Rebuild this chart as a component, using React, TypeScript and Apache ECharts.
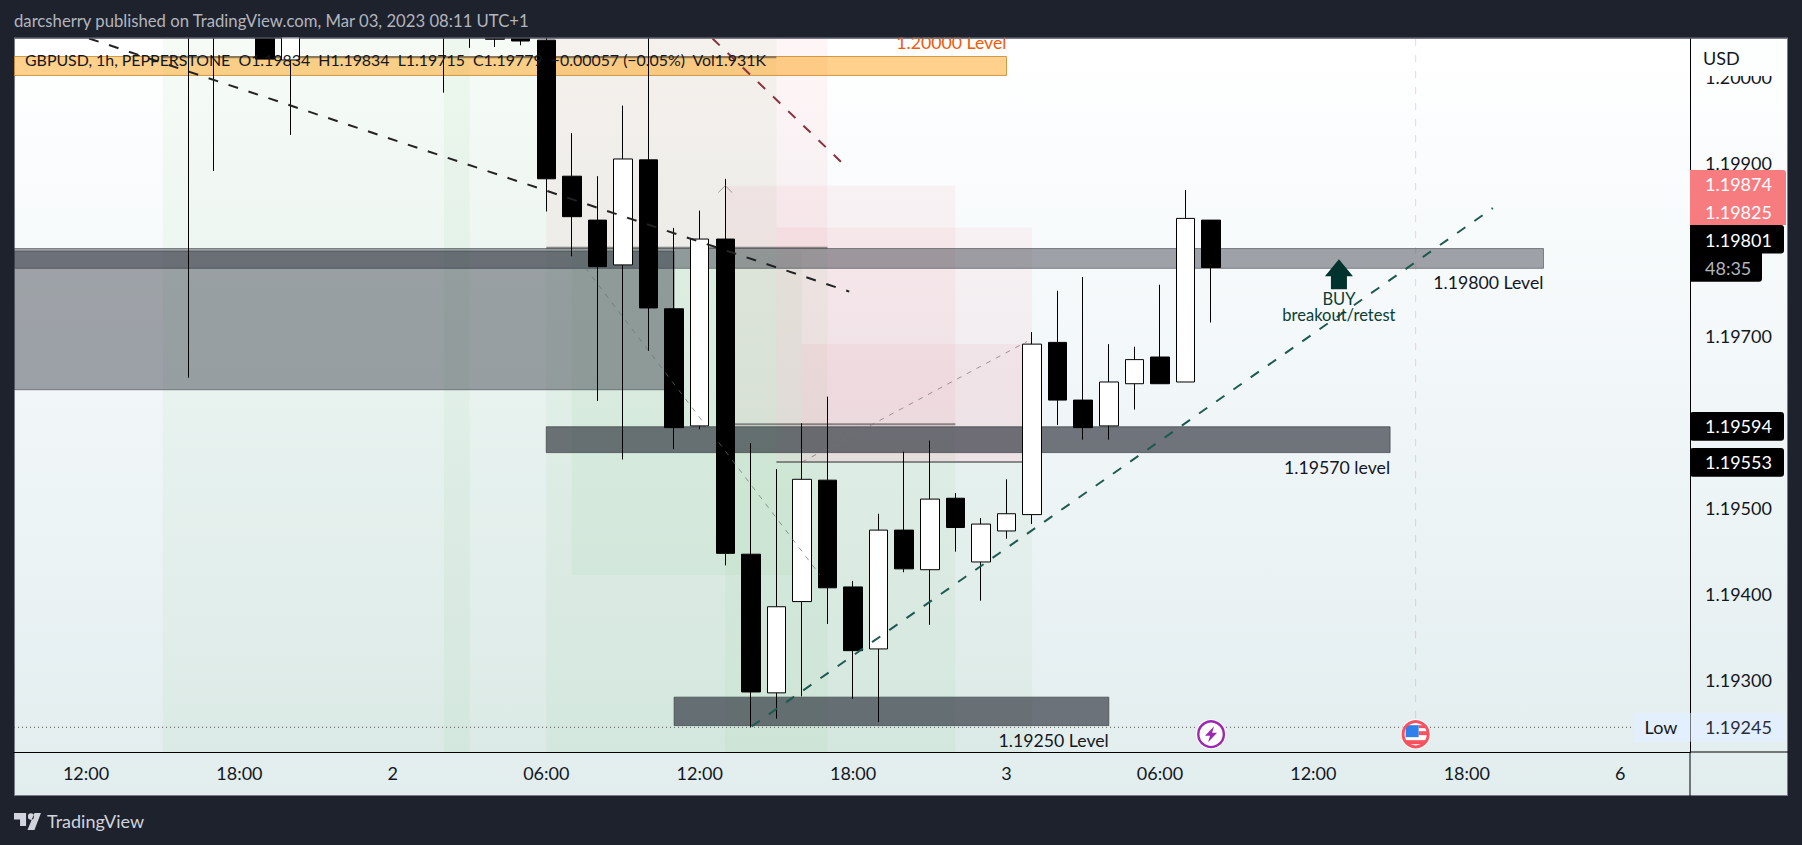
import React, { useEffect, useRef } from "react";
import * as echarts from "echarts";

const FONT = "Lato";
const xMin = -2.816;
const xMax = 62.73;
const yMin = 1.192163;
const yMax = 1.200455;

const timeLabels = ["12:00", "18:00", "2", "06:00", "12:00", "18:00", "3", "06:00", "12:00", "18:00", "6"];
const timeTicks = [0, 6, 12, 18, 24, 30, 36, 42, 48, 54, 60];
const priceTicks = [1.193, 1.194, 1.195, 1.197, 1.199];
const topPriceLabel = "1.20000";

const barIndex = [4, 5, 6, 7, 8, 9, 10, 11, 12, 13, 14, 15, 16, 17, 18, 19, 20, 21, 22, 23, 24, 25, 26, 27, 28, 29, 30, 31, 32, 33, 34, 35, 36, 37, 38, 39, 40, 41, 42, 43, 44];
const opens = [1.2012, 1.2010, 1.2014, 1.2010, 1.2002, 1.2011, 1.2013, 1.2015, 1.2012, 1.2014, 1.2009, 1.2009, 1.20052, 1.20052, 1.20043, 1.19885, 1.19834, 1.19782, 1.19904, 1.19731, 1.19595, 1.19812, 1.19446, 1.19285, 1.19391, 1.19532, 1.19408, 1.19336, 1.19474, 1.19428, 1.19511, 1.19437, 1.19473, 1.19492, 1.19692, 1.19625, 1.19595, 1.19644, 1.19675, 1.19646, 1.19834];
const closes = [1.2008, 1.2008, 1.2012, 1.20021, 1.2008, 1.2013, 1.2015, 1.2013, 1.2014, 1.2012, 1.2007, 1.2007, 1.20044, 1.20042, 1.19882, 1.19838, 1.1978, 1.19905, 1.19732, 1.19593, 1.19812, 1.19447, 1.19286, 1.19385, 1.19533, 1.19407, 1.19334, 1.19474, 1.19429, 1.1951, 1.19477, 1.19481, 1.19493, 1.1969, 1.19625, 1.19593, 1.19646, 1.19672, 1.19644, 1.19836, 1.19779];
const lows = [1.19651, 1.19891, 1.2009, 1.20021, 1.19933, 1.2009, 1.2012, 1.2012, 1.2011, 1.2011, 1.19982, 1.20034, 1.20035, 1.20037, 1.19844, 1.19792, 1.19624, 1.19556, 1.19682, 1.19568, 1.19591, 1.19433, 1.19245, 1.19255, 1.19281, 1.19365, 1.19278, 1.19251, 1.19425, 1.19364, 1.19449, 1.19392, 1.19464, 1.19481, 1.19596, 1.19579, 1.19579, 1.19614, 1.19644, 1.19646, 1.19715];
const highs = [1.2015, 1.2013, 1.2016, 1.2012, 1.2011, 1.2015, 1.2017, 1.2017, 1.2016, 1.2016, 1.2012, 1.2011, 1.2006, 1.2006, 1.20055, 1.19935, 1.19885, 1.19967, 1.2006, 1.19825, 1.19845, 1.19882, 1.19575, 1.19545, 1.19598, 1.19629, 1.19415, 1.19493, 1.19565, 1.19578, 1.19517, 1.19488, 1.19533, 1.19704, 1.19752, 1.19768, 1.1969, 1.19687, 1.19759, 1.19869, 1.19834];

// [fromBar, toBar, priceA, priceB]
const greenShades = [
  [3, 27, 1.2010, 1.1915],
  [14, 15, 1.2010, 1.1915],
  [18, 29, 1.19801, 1.1915],
  [19, 28, 1.19799, 1.19422],
  [25, 34, 1.19594, 1.1915],
  [27, 37, 1.19553, 1.1915],
];
const pinkShades = [
  [18, 29, 1.2010, 1.19801],
  [25, 34, 1.19874, 1.19594],
  [27, 37, 1.19825, 1.19553],
  [28, 37, 1.1969, 1.19553],
];
const wideLevels = [
  [xMin, 57, 1.19801, 1.19778],
  [xMin, 23, 1.19798, 1.19637],
];
const darkLevels = [
  [18, 51, 1.19594, 1.19564],
  [23, 40, 1.1928, 1.19247],
];
const orangeLevels = [[xMin, 36, 1.20024, 1.20002]];

const entryLines = [
  [[3, 1.20023], [27, 1.20023]],
  [[18, 1.19802], [29, 1.19802]],
  [[25, 1.19597], [34, 1.19597]],
  [[27, 1.19553], [37, 1.19553]],
];
const trendBlack = [[0.12, 1.20045], [29.85, 1.19751]];
const trendRed = [[24.5, 1.20045], [29.8, 1.19894]];
const trendGreen = [[26.03, 1.19246], [55.02, 1.19848]];
const thinDown = [[19, 1.19799], [28.7, 1.19422]];
const thinUp = [[28, 1.19553], [36.8, 1.19693]];
const thinHead = [[24.73, 1.19866], [25, 1.19874], [25.27, 1.19866]];
const eventLine = [[52, 1.2010], [52, 1.19255]];
const lowLine = [[xMin, 1.19245], [60.46, 1.19245]];

const levelNotes = [
  [57, 1.19761, "1.19800 Level"],
  [51, 1.19547, "1.19570 level"],
  [40, 1.1923, "1.19250 Level"],
];
const orangeNote = [[36, 1.2004, "1.20000 Level"]];
const buyArrow = [[49, 1.19771]];
const buyNotes = [[49, 1.19733, "BUY\nbreakout/retest"]];
const eventIcons = [
  [44, 1.19237, 0],
  [52, 1.19237, 1],
];

const headerText = "darcsherry published on TradingView.com, Mar 03, 2023 08:11 UTC+1";
const legendText = "GBPUSD, 1h, PEPPERSTONE  O1.19834  H1.19834  L1.19715  C1.19779  \u22120.00057 (\u22120.05%)  Vol1.931K";
const pinkTags = ["1.19874", "1.19825"];
const blackTags = ["1.19801", "1.19594", "1.19553"];
const countdown = "48:35";
const lowTag = "1.19245";

echarts.graphic.registerShape(
  "tvLogo",
  echarts.graphic.extendPath(
    "M0 0H13V13H6.5V6.5H0Z M15 3.5a3.2 3.2 0 1 0 6.4 0a3.2 3.2 0 1 0-6.4 0Z M22 0H29L22 17H14.5Z",
    {}
  )
);

function rectSeries(data: number[][], color: string, border: string | null, z: number) {
  return {
    type: "custom",
    clip: true,
    silent: true,
    z,
    data,
    encode: { x: [0, 1], y: [2, 3] },
    renderItem: (_p: any, api: any) => {
      const a = api.coord([api.value(0), api.value(2)]);
      const b = api.coord([api.value(1), api.value(3)]);
      return {
        type: "rect",
        shape: { x: a[0], y: a[1], width: b[0] - a[0], height: b[1] - a[1] },
        style: { fill: color, stroke: border, lineWidth: border ? 1 : 0 },
      };
    },
  };
}

function lineSeries(data: number[][], color: string, width: number, type: any, z: number) {
  return {
    type: "line",
    data,
    silent: true,
    symbol: "none",
    clip: true,
    z,
    lineStyle: { color, width, type, cap: "butt" },
  };
}

function noteSeries(data: any[], color: string, align: string, size: number, lineHeight?: number) {
  return {
    type: "scatter",
    data,
    silent: true,
    symbolSize: 0,
    z: 8,
    clip: false,
    itemStyle: { opacity: 1 },
    label: {
      show: true,
      position: "inside",
      align,
      verticalAlign: "middle",
      color,
      fontFamily: FONT,
      fontSize: size,
      lineHeight,
      formatter: (p: any) => p.data[2],
    },
  };
}

function renderIcon(_p: any, api: any) {
  const c = api.coord([api.value(0), api.value(1)]);
  const isFlag = api.value(2) === 1;
  const children: any[] = [
    { type: "circle", shape: { cx: 0, cy: 0, r: 15 }, style: { fill: "#ffffff" } },
  ];
  if (isFlag) {
    children.push(
      { type: "rect", shape: { x: 3, y: -9, width: 8, height: 3 }, style: { fill: "#f7525f" } },
      { type: "rect", shape: { x: 3, y: -3, width: 10, height: 4 }, style: { fill: "#f7525f" } },
      { type: "rect", shape: { x: -10, y: 6, width: 20, height: 4 }, style: { fill: "#f7525f" } },
      { type: "rect", shape: { x: -10, y: -9, width: 13, height: 12 }, style: { fill: "#2f80ed" } },
      { type: "circle", shape: { cx: 0, cy: 0, r: 12.6 }, style: { fill: "none", stroke: "#f7525f", lineWidth: 3 } }
    );
  } else {
    children.push(
      { type: "circle", shape: { cx: 0, cy: 0, r: 12.8 }, style: { fill: "none", stroke: "#9c27b0", lineWidth: 2.4 } },
      {
        type: "polygon",
        shape: { points: [[3, -8], [-6, 1.5], [-1, 1.5], [-3, 8], [6, -1.5], [1, -1.5]] },
        style: { fill: "#9c27b0" },
      }
    );
  }
  return { type: "group", x: c[0], y: c[1], children };
}

function tag(x: number, y: number, w: number, h: number, fill: string, radius: any) {
  return { type: "rect", silent: true, z: 100, shape: { x, y, width: w, height: h, r: radius }, style: { fill } };
}
function label(x: number, y: number, text: string, fill: string, size = 18, align = "left") {
  return {
    type: "text",
    silent: true,
    z: 100,
    x,
    y,
    style: { text, fill, fontFamily: FONT, fontSize: size, align, verticalAlign: "middle" },
  };
}

export default function App() {
  const ref = useRef<HTMLDivElement>(null);
  useEffect(() => {
    if (!ref.current) return;
    const chart = echarts.init(ref.current, undefined, { renderer: "svg" });
    const candleData = barIndex.map((b, i) => [b, opens[i], closes[i], lows[i], highs[i]]);
    const thickGray = "rgba(70,72,72,0.6)";
    chart.setOption({
      animation: false,
      backgroundColor: "transparent",
      grid: { left: 14, right: 112, top: 38, bottom: 93, containLabel: false },
      xAxis: {
        type: "value",
        min: xMin,
        max: xMax,
        splitLine: { show: false },
        axisTick: { show: false },
        axisLine: { show: true, onZero: false, lineStyle: { color: "#000", width: 1 } },
        axisLabel: {
          customValues: timeTicks,
          formatter: (v: number) => timeLabels[timeTicks.indexOf(Math.round(v))] ?? "",
          color: "#131722",
          fontFamily: FONT,
          fontSize: 18,
          margin: 12,
        },
      },
      yAxis: {
        type: "value",
        position: "right",
        min: yMin,
        max: yMax,
        splitLine: { show: false },
        axisTick: { show: false },
        axisLine: { show: true, onZero: false, lineStyle: { color: "#000", width: 1 } },
        axisLabel: {
          customValues: priceTicks,
          formatter: (v: number) => v.toFixed(5),
          color: "#131722",
          fontFamily: FONT,
          fontSize: 18,
          margin: 15,
        },
      },
      series: [
        rectSeries(greenShades, "rgba(76,175,80,0.05)", null, 1),
        rectSeries(pinkShades, "rgba(242,54,69,0.05)", null, 1),
        rectSeries(wideLevels, "rgba(42,46,57,0.43)", "rgba(70,74,80,0.6)", 1),
        rectSeries(darkLevels, "rgba(42,46,57,0.65)", "rgba(60,64,70,0.7)", 1),
        rectSeries(orangeLevels, "rgba(255,152,0,0.45)", "rgba(200,140,50,0.85)", 1),
        ...entryLines.map((l) => lineSeries(l, thickGray, 2, "solid", 2)),
        lineSeries(lowLine, "#555", 1, [1, 3], 2),
        lineSeries(eventLine, "rgba(242,54,69,0.22)", 1, [7, 9], 2),
        {
          type: "candlestick",
          data: candleData,
          barWidth: 19,
          z: 3,
          silent: true,
          clip: true,
          itemStyle: { color: "#ffffff", color0: "#000000", borderColor: "#000000", borderColor0: "#000000", borderWidth: 1 },
        },
        lineSeries(trendBlack, "#222222", 2, [10, 11], 4),
        lineSeries(trendRed, "#8c2f3e", 2, [10, 11], 4),
        lineSeries(trendGreen, "#1f5a50", 2, [10, 11], 4),
        lineSeries(thinDown, "rgba(100,115,110,0.7)", 1, [5, 6], 4),
        lineSeries(thinUp, "rgba(120,110,112,0.7)", 1, [5, 6], 4),
        lineSeries(thinHead, "rgba(100,100,100,0.6)", 1, "solid", 4),
        {
          type: "scatter",
          data: buyArrow,
          silent: true,
          z: 6,
          symbol: "path://M14 0L28 17H22V30H6V17H0Z",
          symbolSize: [28, 30],
          itemStyle: { color: "#00332e", opacity: 1 },
        },
        noteSeries(levelNotes, "#131722", "right", 17.7),
        noteSeries(orangeNote, "#ef5a0c", "right", 17.7),
        noteSeries(buyNotes, "#0b3d35", "center", 16.5, 16),
        {
          type: "custom",
          silent: true,
          z: 7,
          data: eventIcons,
          encode: { x: 0, y: 1 },
          renderItem: renderIcon,
        },
      ],
      graphic: {
        elements: [
          tag(0, 0, 1802, 37.5, "#1e222d", 0),
          { type: "line", silent: true, z: 100, shape: { x1: 14, y1: 38, x2: 1788, y2: 38 }, style: { stroke: "#787b86", lineWidth: 1 } },
          { type: "line", silent: true, z: 100, shape: { x1: 1690, y1: 752, x2: 1690, y2: 796 }, style: { stroke: "#000", lineWidth: 1 } },
          { type: "line", silent: true, z: 100, shape: { x1: 1690, y1: 752, x2: 1788, y2: 752 }, style: { stroke: "#000", lineWidth: 1 } },
          label(1705, 77.2, topPriceLabel, "#131722"),
          tag(1691, 39, 96, 37, "#fdfefe", 0),
          label(1703, 58, "USD", "#131722"),
          label(25, 59.5, legendText, "#131722", 15.9),
          label(14, 21, headerText, "#b2b5be", 16.7),
          tag(1690, 170, 96, 55, "#f77c80", [0, 3, 0, 0]),
          label(1705, 184.3, pinkTags[0], "#ffffff"),
          label(1705, 212, pinkTags[1], "#ffffff"),
          tag(1690, 225, 94, 28.5, "#000000", [0, 3, 3, 0]),
          label(1705, 239.7, blackTags[0], "#ffffff"),
          tag(1690, 253, 72, 28.7, "#000000", [0, 0, 3, 0]),
          label(1705, 267.5, countdown, "#b2b5be"),
          tag(1690, 412, 94, 28.7, "#000000", [3, 3, 3, 3]),
          label(1705, 426.3, blackTags[1], "#ffffff"),
          tag(1690, 448, 94, 28.7, "#000000", [3, 3, 3, 3]),
          label(1705, 462, blackTags[2], "#ffffff"),
          tag(1634, 713, 55.5, 28.7, "#e3effd", 0),
          label(1661, 727.3, "Low", "#131722", 18, "center"),
          tag(1690.5, 713, 95.5, 28.7, "#e3effd", 0),
          label(1705, 727.3, lowTag, "#2a2e39"),
          { type: "tvLogo", silent: true, z: 100, x: 14, y: 813, scaleX: 0.93, scaleY: 1, style: { fill: "#d1d4dc" } },
          label(47, 821, "TradingView", "#d1d4dc", 18),
        ],
      },
    });
    return () => chart.dispose();
  }, []);
  return (
    <div style={{ position: "fixed", left: 0, top: 0, width: 1802, height: 845, background: "#1e222d", overflow: "hidden" }}>
      <div
        style={{
          position: "absolute",
          left: 14,
          top: 38,
          width: 1774,
          height: 758,
          boxSizing: "border-box",
          border: "1px solid #787b86",
          background: "linear-gradient(180deg,#ffffff 0%,#f0f6f8 50%,#e2edee 100%)",
        }}
      />
      <div ref={ref} style={{ position: "absolute", left: 0, top: 0, width: 1802, height: 845 }} />
    </div>
  );
}
